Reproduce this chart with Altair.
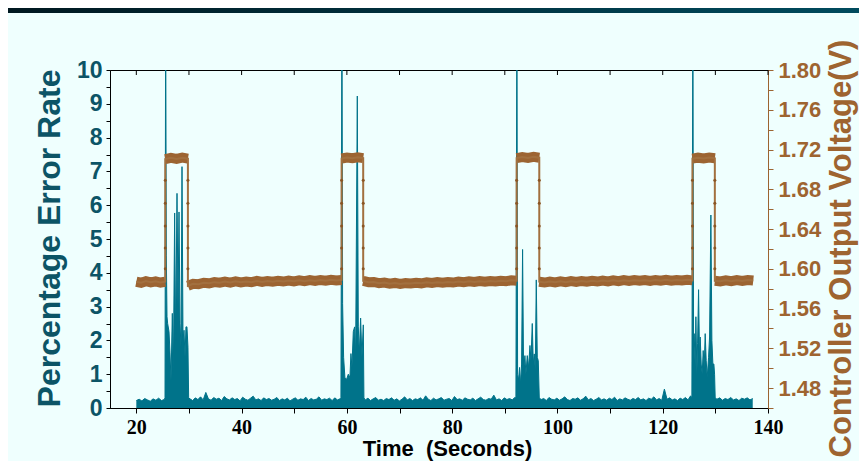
import altair as alt
import pandas as pd

# ---------------- data ----------------
X_TICKS = [20, 30, 40, 50, 60, 70, 80, 90, 100, 110, 120, 130, 140]
LEFT_TICKS = [0, 0.5, 1, 1.5, 2, 2.5, 3, 3.5, 4, 4.5, 5, 5.5, 6, 6.5, 7, 7.5, 8, 8.5, 9, 9.5, 10]
RIGHT_TICKS = [1.46, 1.48, 1.50, 1.52, 1.54, 1.56, 1.58, 1.60, 1.62, 1.64, 1.66, 1.68,
               1.70, 1.72, 1.74, 1.76, 1.78, 1.80]

# Percentage error rate: quiet stretches (start time, end time, values)
ERR_A = (20.0, 25.3, [0.22, 0.26, 0.21, 0.28, 0.24, 0.20, 0.27, 0.23, 0.29, 0.22, 0.25])
ERR_B = (30.2, 58.7, [0.27, 0.22, 0.30, 0.25, 0.33, 0.24, 0.46, 0.27, 0.23, 0.31, 0.26, 0.29,
                      0.22, 0.34, 0.27, 0.24, 0.30, 0.25, 0.28, 0.21, 0.32, 0.26, 0.23, 0.29,
                      0.35, 0.24, 0.27, 0.22, 0.30, 0.25, 0.28, 0.23, 0.26, 0.31, 0.22, 0.27,
                      0.24, 0.29, 0.21, 0.26, 0.30, 0.23, 0.27, 0.25, 0.32, 0.22, 0.28, 0.24,
                      0.26, 0.33, 0.23, 0.27, 0.25, 0.29, 0.22, 0.30, 0.24, 0.27])
ERR_C = (63.5, 91.9, [0.24, 0.29, 0.22, 0.27, 0.31, 0.23, 0.26, 0.22, 0.28, 0.25, 0.30, 0.23,
                      0.27, 0.21, 0.26, 0.33, 0.24, 0.28, 0.22, 0.27, 0.25, 0.30, 0.23, 0.36,
                      0.26, 0.22, 0.29, 0.24, 0.27, 0.31, 0.23, 0.26, 0.28, 0.22, 0.34, 0.25,
                      0.27, 0.23, 0.30, 0.26, 0.24, 0.29, 0.22, 0.27, 0.32, 0.25, 0.23, 0.28,
                      0.26, 0.38, 0.24, 0.27, 0.22, 0.30, 0.25, 0.28, 0.24, 0.31])
ERR_D = (96.9, 125.3, [0.25, 0.28, 0.22, 0.31, 0.26, 0.24, 0.29, 0.23, 0.27, 0.33, 0.25, 0.22,
                       0.28, 0.26, 0.30, 0.23, 0.27, 0.35, 0.24, 0.28, 0.22, 0.26, 0.31, 0.24,
                       0.27, 0.23, 0.29, 0.25, 0.32, 0.22, 0.27, 0.24, 0.30, 0.26, 0.23, 0.28,
                       0.25, 0.31, 0.24, 0.27, 0.22, 0.29, 0.26, 0.33, 0.24, 0.28, 0.23, 0.56,
                       0.26, 0.30, 0.24, 0.27, 0.22, 0.29, 0.25, 0.31, 0.24, 0.36])
ERR_E = (130.3, 137.1, [0.26, 0.30, 0.23, 0.28, 0.25, 0.31, 0.24, 0.27, 0.22, 0.29, 0.26, 0.30,
                        0.24, 0.28])

# Percentage error rate: bursts during the high-voltage intervals
BURST1_T = [25.45, 25.57, 25.70, 25.83, 25.95, 26.21, 26.40, 26.59, 26.84, 27.03, 27.28, 27.47,
            27.73, 27.92, 28.11, 28.30, 28.49, 28.68, 28.87, 29.06, 29.25, 29.43, 29.62, 29.81, 29.94]
BURST1_V = [0.30, 12.0, 4.50, 2.70, 2.50, 2.26, 1.63, 0.80, 2.80, 1.00, 5.77, 2.00,
            6.35, 3.00, 5.80, 2.50, 1.80, 7.14, 2.00, 2.30, 1.50, 2.40, 2.40, 1.80, 0.30]
BURST2_T = [58.87, 59.06, 59.19, 59.38, 59.63, 59.95, 60.27, 60.58, 60.77, 60.96, 61.22, 61.47,
            61.66, 61.98, 62.17, 62.36, 62.61, 62.86, 63.12, 63.24]
BURST2_V = [0.30, 12.0, 3.09, 1.50, 0.89, 0.85, 1.00, 0.90, 1.61, 1.20, 2.26, 2.40,
            1.50, 9.23, 2.40, 1.60, 2.66, 1.50, 2.46, 0.30]
BURST3_T = [92.11, 92.30, 92.43, 92.62, 92.81, 93.00, 93.19, 93.38, 93.57, 93.82, 94.01, 94.27,
            94.52, 94.78, 94.97, 95.22, 95.41, 95.60, 95.79, 95.98, 96.17, 96.36, 96.55]
BURST3_V = [0.30, 12.0, 1.00, 0.83, 1.20, 0.70, 1.30, 4.69, 1.10, 1.55, 1.00, 1.55,
            1.20, 1.85, 1.40, 2.50, 1.30, 1.60, 1.10, 3.79, 1.50, 1.40, 0.30]
BURST4_T = [125.54, 125.73, 125.86, 125.98, 126.17, 126.30, 126.49, 126.62, 126.81, 127.00,
            127.12, 127.31, 127.50, 127.69, 127.88, 128.07, 128.26, 128.45, 128.71, 128.90,
            129.15, 129.34, 129.53, 129.72, 129.85, 129.97]
BURST4_V = [0.30, 12.0, 1.80, 2.20, 1.20, 2.70, 1.00, 1.90, 3.50, 1.40,
            2.10, 1.30, 1.00, 1.70, 1.20, 2.20, 1.40, 0.90, 1.50, 2.10,
            5.71, 2.00, 1.30, 1.30, 1.00, 0.30]

# Controller output voltage: flat stretches (start time, end time, values)
VOLT_SEGS = [
    (20.0, 25.5, [1.5870, 1.5860, 1.5876, 1.5864, 1.5874, 1.5862, 1.5870]),
    (25.5, 29.8, [1.7104, 1.7116, 1.7106, 1.7118, 1.7108]),
    (29.8, 59.0, [1.5830, 1.5850, 1.5846, 1.5860, 1.5854, 1.5866, 1.5860, 1.5872, 1.5862, 1.5874,
                  1.5864, 1.5872, 1.5866, 1.5878, 1.5868, 1.5878, 1.5870, 1.5880, 1.5872, 1.5882,
                  1.5874, 1.5884, 1.5876, 1.5886, 1.5878, 1.5888, 1.5880, 1.5890, 1.5882, 1.5888]),
    (59.0, 63.1, [1.7110, 1.7120, 1.7112, 1.7122, 1.7114]),
    (63.1, 92.25, [1.5878, 1.5866, 1.5868, 1.5856, 1.5862, 1.5850, 1.5858, 1.5848, 1.5856, 1.5852,
                   1.5860, 1.5854, 1.5864, 1.5858, 1.5866, 1.5860, 1.5868, 1.5862, 1.5872, 1.5866,
                   1.5874, 1.5868, 1.5876, 1.5870, 1.5878, 1.5872, 1.5880, 1.5876, 1.5884, 1.5880]),
    (92.25, 96.55, [1.7114, 1.7124, 1.7116, 1.7126, 1.7118]),
    (96.55, 125.65, [1.5870, 1.5862, 1.5872, 1.5864, 1.5874, 1.5866, 1.5876, 1.5868, 1.5878, 1.5870,
                     1.5880, 1.5872, 1.5882, 1.5874, 1.5884, 1.5876, 1.5886, 1.5878, 1.5886, 1.5880,
                     1.5886, 1.5878, 1.5888, 1.5880, 1.5890, 1.5880, 1.5888, 1.5882, 1.5890, 1.5884]),
    (125.65, 129.9, [1.7108, 1.7118, 1.7110, 1.7120, 1.7112]),
    (129.9, 137.2, [1.5880, 1.5874, 1.5884, 1.5876, 1.5886, 1.5878, 1.5888, 1.5882]),
]
# sample dots along each voltage switching edge
SWITCH_TIMES = [25.5, 29.8, 59.0, 63.1, 92.25, 96.55, 125.65, 129.9]
SWITCH_LEVELS = [1.689, 1.666, 1.643, 1.621, 1.600]

# ---------------- tables ----------------
def spread(t0, t1, vals):
    n = len(vals)
    return [(t0 + (t1 - t0) * i / (n - 1), v) for i, v in enumerate(vals)]

err_pts = []
for seg in (ERR_A, ERR_B, ERR_C, ERR_D, ERR_E):
    err_pts += spread(*seg)
for bt, bv in ((BURST1_T, BURST1_V), (BURST2_T, BURST2_V), (BURST3_T, BURST3_V), (BURST4_T, BURST4_V)):
    err_pts += list(zip(bt, bv))
err_pts.sort(key=lambda p: p[0])
err_df = pd.DataFrame(err_pts, columns=["t", "e"])

vrows = []
k = 0
for s, seg in enumerate(VOLT_SEGS):
    for t, v in spread(*seg):
        vrows.append({"t": t, "v": v, "seg": s, "i": k})
        k += 1
volt_df = pd.DataFrame(vrows)
dot_df = pd.DataFrame([{"t": t, "v": v} for t in SWITCH_TIMES for v in SWITCH_LEVELS])
tick_df = pd.DataFrame({"t": X_TICKS})

# ---------------- styling ----------------
TEAL = "#00738A"
TEAL_TEXT = "#0C5466"
BROWN = "#9C6432"
BROWN_TEXT = "#9E6430"
BG = "#EFFFFE"
FONT = "Liberation Sans"
W, H = 658, 338

x_enc = alt.X(
    "t:Q",
    scale=alt.Scale(domain=[15, 140], nice=False, zero=False),
    axis=alt.Axis(
        values=X_TICKS,
        labelExpr="datum.value % 20 == 0 ? format(datum.value, 'd') : ''",
        labelFont="Liberation Sans Narrow", labelFontSize=20, labelFontWeight="bold",
        labelColor="black", labelPadding=4, labelFlush=False, labelOverlap=False,
        tickSize=5, tickColor="black", domainColor="black", grid=False,
        title="Time\u00a0 (Seconds)", titleFont=FONT, titleFontSize=22, titleFontWeight="bold",
        titleColor="black", titleX=337, titleY=47, titleAlign="center",
        titleBaseline="alphabetic",
    ),
)

y_left = alt.Y(
    "e:Q",
    scale=alt.Scale(domain=[0, 10], nice=False),
    axis=alt.Axis(
        values=LEFT_TICKS,
        labelExpr="datum.value % 1 == 0 ? format(datum.value, 'd') : ''",
        labelFont=FONT, labelFontSize=23, labelFontWeight="bold", labelColor=TEAL_TEXT,
        labelPadding=4, labelFlush=False, labelOverlap=False,
        tickSize=4, tickColor="black", domainColor="black", grid=False,
        title="Percentage Error Rate", titleFont=FONT, titleFontSize=32, titleFontWeight="bold",
        titleColor=TEAL_TEXT, titleX=-61, titleY=168, titleAngle=270, titleAlign="center",
        titleBaseline="middle",
    ),
)

y_right = alt.Y(
    "v:Q",
    scale=alt.Scale(domain=[1.46, 1.80], nice=False, zero=False),
    axis=alt.Axis(
        orient="right",
        values=RIGHT_TICKS,
        labelExpr="round(datum.value * 100) % 4 == 0 ? format(datum.value, '.2f') : ''",
        labelFont=FONT, labelFontSize=22, labelFontWeight="bold", labelColor=BROWN_TEXT,
        labelPadding=5, labelFlush=False, labelOverlap=False,
        tickSize=5, tickColor=BROWN, domainColor=BROWN, grid=False,
        title="Controller Output Voltage(V)", titleFont=FONT, titleFontSize=31,
        titleFontWeight="bold", titleColor=BROWN_TEXT, titleX=73, titleY=178, titleAngle=270,
        titleAlign="center", titleBaseline="middle",
    ),
)

# decorative dark band along the top of the slide
band_top = alt.Chart(pd.DataFrame({"a": [0]})).mark_rect(
    fill=alt.LinearGradient(
        gradient="linear",
        stops=[alt.GradientStop(color="#001820", offset=0),
               alt.GradientStop(color="#004B5E", offset=1)],
        x1=0, x2=1, y1=0, y2=0,
    ),
    clip=False,
).encode(x=alt.value(-102), x2=alt.value(W + 91), y=alt.value(-62), y2=alt.value(-57))

err_base = alt.Chart(err_df).encode(x=x_enc, y=y_left)
err_area = err_base.mark_area(color=TEAL, clip=True, interpolate="linear")
err_line = err_base.mark_line(color=TEAL, strokeWidth=1, clip=True)

top_ticks = alt.Chart(tick_df).mark_rule(color="black", strokeWidth=1).encode(
    x=x_enc, y=alt.value(0), y2=alt.value(5)
)

volt_band = alt.Chart(volt_df).mark_line(color=BROWN, strokeWidth=10, strokeCap="butt").encode(
    x=x_enc, y=y_right, detail="seg:N", order="i:Q"
)
volt_line = alt.Chart(volt_df).mark_line(color="#A2703F", strokeWidth=2).encode(
    x=x_enc, y=y_right, order="i:Q"
)
volt_dots = alt.Chart(dot_df).mark_circle(color="#8A5524", size=9, opacity=1).encode(
    x=x_enc, y=y_right
)

left = alt.layer(band_top, err_area, err_line, top_ticks)
right = alt.layer(volt_band, volt_line, volt_dots)

chart = (
    alt.layer(left, right)
    .resolve_scale(y="independent")
    .properties(
        width=W, height=H,
        padding={"left": 102, "top": 62, "right": 91, "bottom": 53},
        autosize=alt.AutoSizeParams(type="none"),
        background=BG,
    )
    .configure_view(stroke="black", strokeWidth=1)
)

chart.save("out.html", embed_options={"renderer": "svg", "actions": False})
